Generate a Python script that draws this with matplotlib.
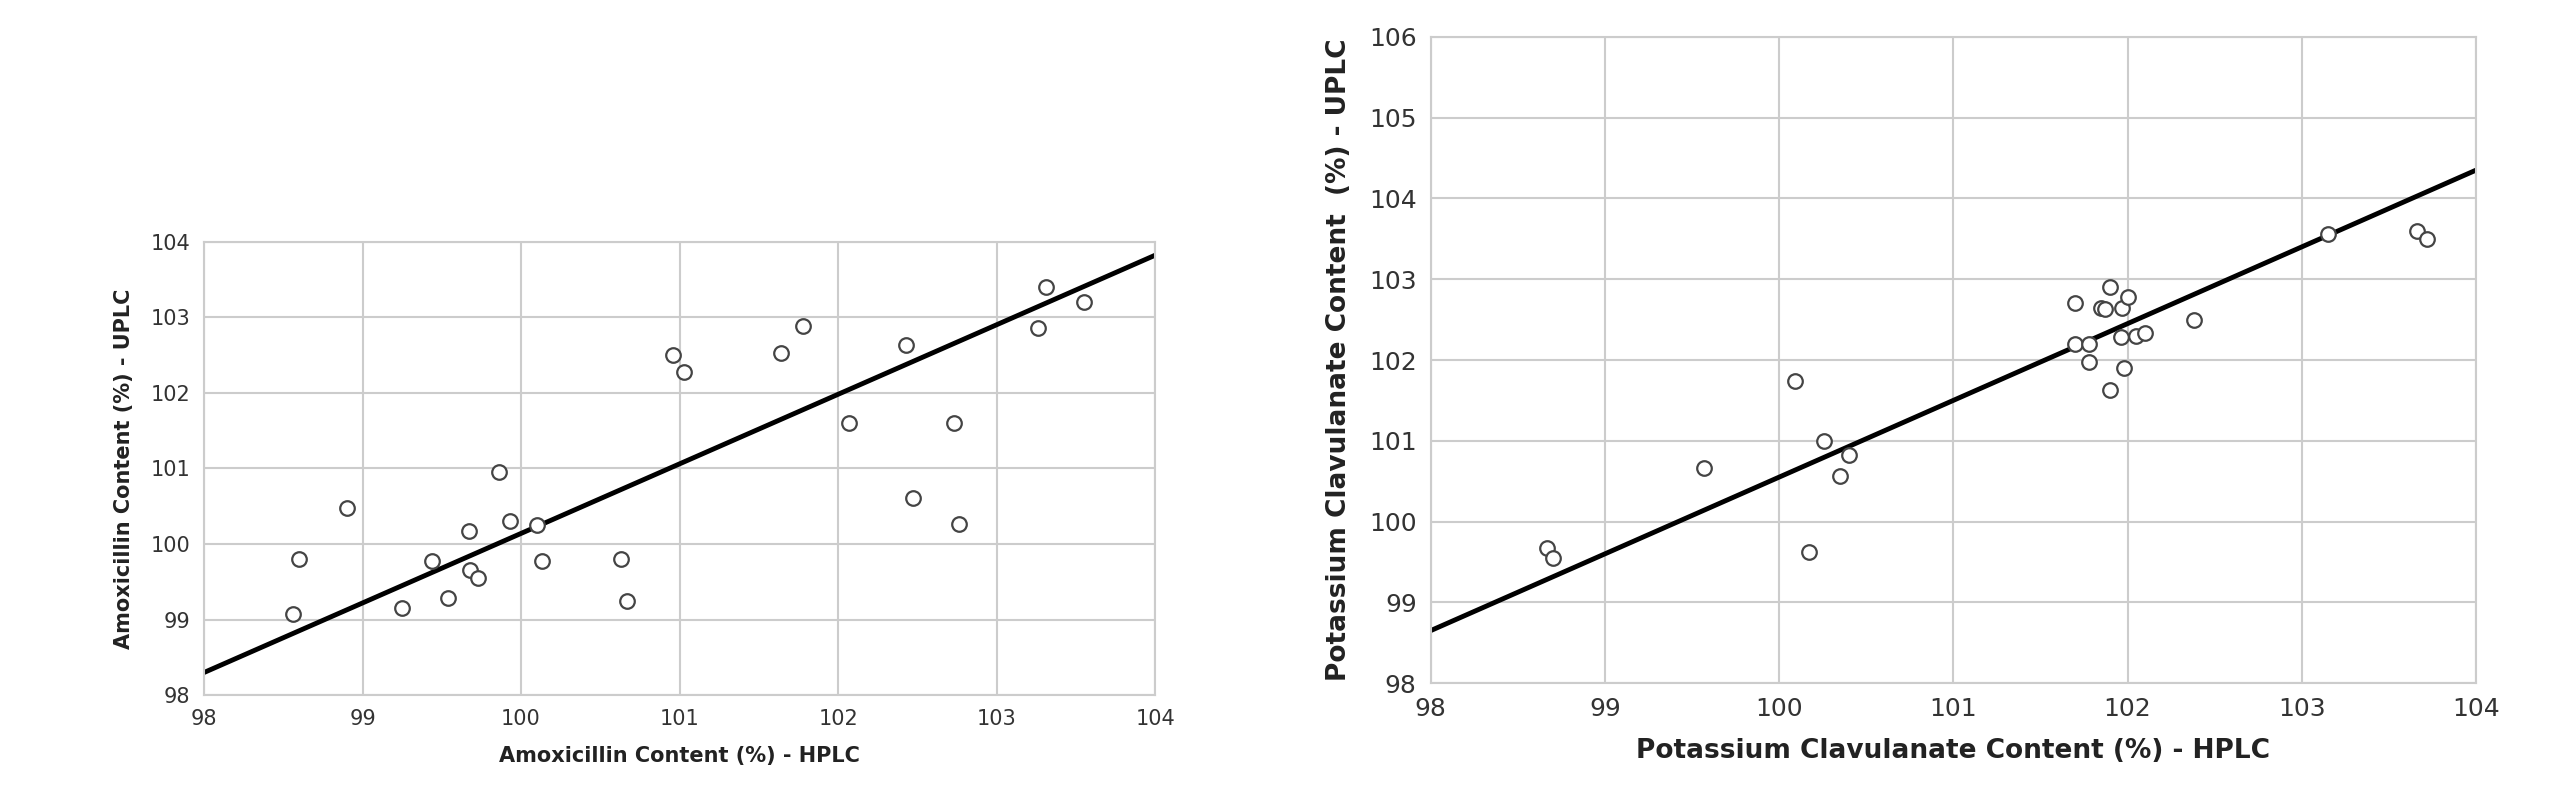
import matplotlib
matplotlib.use("Agg")
import matplotlib.pyplot as plt
import numpy as np

amox_hplc = [98.56, 98.6, 98.9, 99.25, 99.44, 99.54, 99.67, 99.68, 99.73, 99.86, 99.93, 100.1, 100.13,
             100.63, 100.67, 100.96, 101.03, 101.64, 101.78, 102.07, 102.43, 102.47, 102.73, 102.76,
             103.26, 103.31, 103.55]
amox_uplc = [99.07, 99.8, 100.48, 99.16, 99.77, 99.29, 100.17, 99.65, 99.55, 100.95, 100.3, 100.25, 99.77,
             99.8, 99.24, 102.5, 102.28, 102.52, 102.88, 101.6, 102.63, 100.61, 101.6, 100.26,
             102.86, 103.4, 103.2]
amox_line_x = [98, 104]
amox_line_y = [98.3, 103.82]

clav_hplc = [98.67, 98.7, 99.57, 100.09, 100.17, 100.26, 100.35, 100.4, 101.7, 101.7, 101.78, 101.78,
             101.85, 101.87, 101.9, 101.9, 101.96, 101.97, 101.98, 102.0, 102.05, 102.1, 102.38,
             103.15, 103.66, 103.72]
clav_uplc = [99.67, 99.55, 100.66, 101.74, 99.62, 101.0, 100.56, 100.83, 102.7, 102.2, 102.2, 101.98,
             102.64, 102.63, 101.63, 102.9, 102.28, 102.64, 101.9, 102.78, 102.3, 102.34, 102.5,
             103.56, 103.6, 103.5]
clav_line_x = [98, 104]
clav_line_y = [98.65, 104.35]

fig = plt.figure(figsize=(25.5, 8), dpi=100)
ax1 = fig.add_axes([0.080, 0.131, 0.373, 0.567])
ax2 = fig.add_axes([0.561, 0.146, 0.410, 0.808])

def style(ax, x, y, lx, ly, ylim, xl, yl, tfs, lfs):
    ax.plot(lx, ly, color="black", lw=3.5, zorder=2)
    ax.scatter(x, y, s=110, facecolors="white", edgecolors="#444444", linewidths=1.6, zorder=3)
    ax.set_xlim(98, 104)
    ax.set_ylim(*ylim)
    ax.set_xticks(np.arange(98, 105, 1))
    ax.set_yticks(np.arange(ylim[0], ylim[1] + 1, 1))
    ax.grid(True, color="#cccccc", lw=1.5)
    ax.set_axisbelow(True)
    for s in ax.spines.values():
        s.set_color("#cccccc")
        s.set_linewidth(1.5)
    ax.tick_params(length=0, labelsize=tfs, colors="#333333", pad=10)
    ax.set_xlabel(xl, fontsize=lfs, fontweight="bold", color="#222222", labelpad=12)
    ax.set_ylabel(yl, fontsize=lfs, fontweight="bold", color="#222222", labelpad=12)

style(ax1, amox_hplc, amox_uplc, amox_line_x, amox_line_y, (98, 104),
      "Amoxicillin Content (%) - HPLC", "Amoxicillin Content (%) - UPLC", 15, 15)
style(ax2, clav_hplc, clav_uplc, clav_line_x, clav_line_y, (98, 106),
      "Potassium Clavulanate Content (%) - HPLC", "Potassium Clavulanate Content  (%) - UPLC", 18, 19)

fig.savefig("out.png", dpi=100, facecolor="white")
